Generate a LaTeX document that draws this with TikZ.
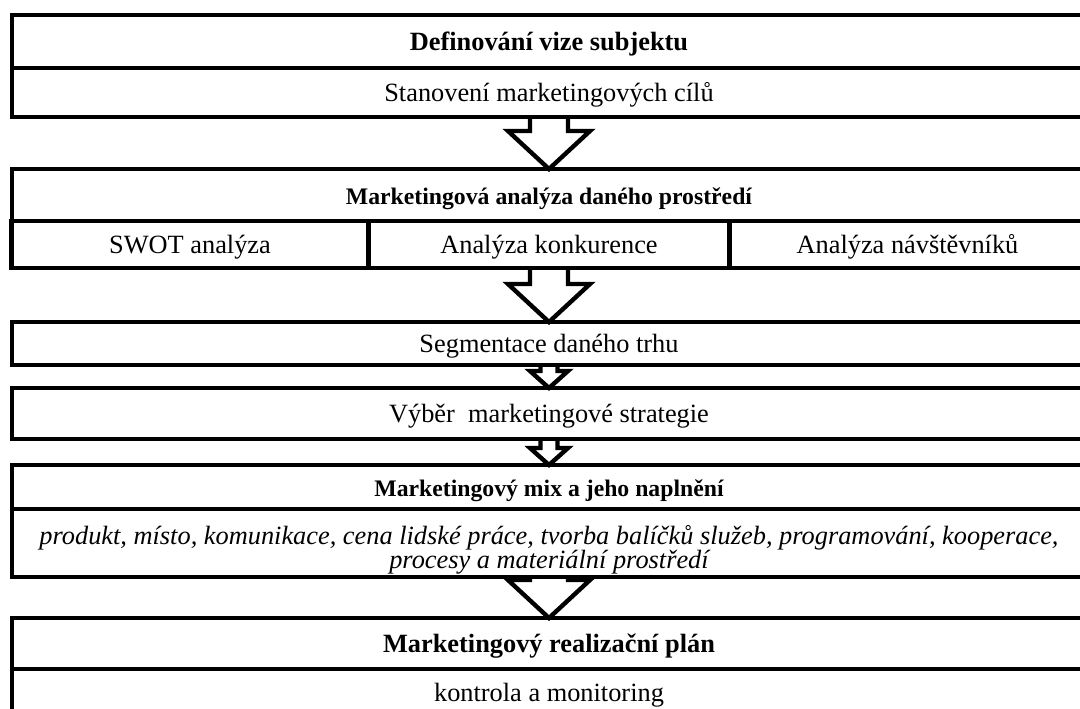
\documentclass[tikz,border=0pt]{standalone}
\usepackage{fontspec}
\setmainfont{Liberation Serif}
\usetikzlibrary{calc,positioning}
\newlength\px
\setlength\px{0.02cm}
\newcommand\pismo{\fontsize{15pt}{17pt}\selectfont}
\newcommand\pismomale{\fontsize{13.5pt}{15pt}\selectfont\bfseries}
\newcommand\pismoit{\fontsize{15pt}{13.8pt}\selectfont\itshape\lineskiplimit=-\maxdimen}
\def\sipka#1#2#3#4#5{\draw[line width=2.5pt] ($(#1)+(-#3,0)$) |- ($(#2)+(-#4,-#5)$) -- (#2) -- ($(#2)+(#4,-#5)$) -| ($(#1)+(#3,0)$);}

\begin{document}
\begin{tikzpicture}[x=0.02cm, y=-0.02cm,
	ramec/.style={draw, line width=2.5pt, inner sep=0pt, outer sep=0pt, minimum width=1074\px},
	pas/.style={ramec, font=\pismo, text height=24\px, text depth=5\px}]
				\useasboundingbox (0,0) rectangle (1080,709);
				\clip (0,0) rectangle (1080,709);
				
				\node[pas, minimum height=53\px] (vize) at (549,41.5) {\textbf{Definování vize subjektu}};
				\node[pas, minimum height=49\px, below=0pt of vize] (cile) {Stanovení marketingových cílů};
				
				\node[pas, font=\pismomale, minimum height=52\px, below=52\px of cile] (analyza) {Marketingová analýza daného prostředí};
				\node[pas, minimum width=361\px, minimum height=47\px, below=0pt of analyza] (konkurence) {Analýza konkurence};
				\node[pas, minimum width=357\px, minimum height=47\px, left=0pt of konkurence] (swot) {SWOT analýza};
				\node[pas, minimum width=356\px, minimum height=47\px, right=0pt of konkurence] (navstevnici) {Analýza návštěvníků};
				
				\node[pas, minimum height=43\px, below=54\px of konkurence] (segmentace) {Segmentace daného trhu};
				\node[pas, minimum height=51\px, below=23\px of segmentace] (vyber) {Výběr\ \ marketingové strategie};
				
				\node[pas, font=\pismomale, minimum height=44\px, below=26\px of vyber] (mix) {Marketingový mix a jeho naplnění};
				\node[ramec, font=\pismoit, align=center, minimum height=68\px, below=0pt of mix] (naplneni) {\rule{0pt}{32\px}produkt, místo, komunikace, cena lidské práce, tvorba balíčků služeb, programování, kooperace,\\procesy a materiální prostředí};
				
				\node[pas, minimum height=51\px, below=41\px of naplneni] (plan) {\textbf{Marketingový realizační plán}};
				\node[pas, minimum height=47\px, below=0pt of plan] (kontrola) {kontrola a monitoring};
				
				\sipka{cile.south}{analyza.north}{19}{41}{38}
				\sipka{konkurence.south}{segmentace.north}{19}{41}{38}
				\sipka{segmentace.south}{vyber.north}{8.5}{19}{17}
				\sipka{vyber.south}{mix.north}{8.5}{19}{17}
				\sipka{naplneni.south}{plan.north}{19}{41}{38}
			\end{tikzpicture}
\end{document}
